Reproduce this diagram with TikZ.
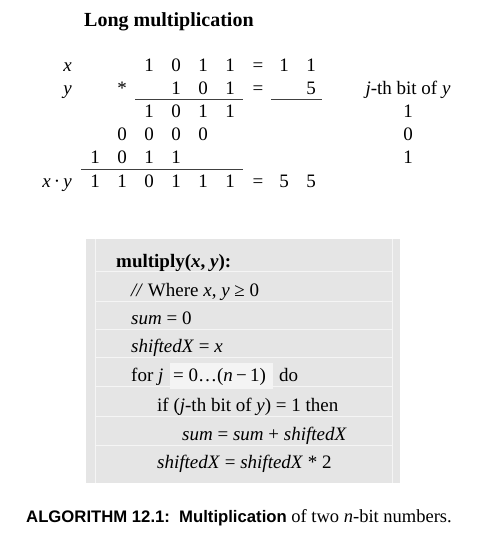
\documentclass[tikz,border=0pt]{standalone}
\usepackage{fontspec}
\setmainfont{Liberation Serif}
\setsansfont{Liberation Sans}
\usetikzlibrary{positioning}

\tikzset{
	digit/.style={anchor=base, inner sep=0pt, font=\fontsize{19}{23}\selectfont},
	sidelabel/.style={anchor=base east, inner sep=0pt, font=\fontsize{19}{23}\selectfont},
	code/.style={anchor=base west, inner sep=0pt, font=\fontsize{19}{23}\selectfont},
	rule/.style={black!75, line width=0.8pt},
	sep/.style={gray!8, line width=0.7pt}
}

\begin{document}
\begin{tikzpicture}[x=1pt, y=-1pt]
	\useasboundingbox (0,0) rectangle (483,536);
	% title
	\node[anchor=base west, inner sep=0pt, font=\fontsize{20}{24}\selectfont\bfseries] (title) at (84,26.5) {Long multiplication};
	% long multiplication, columns 27pt apart
	\node[sidelabel] (xlab) at (72,71) {\textit{x}};
	\node[sidelabel] (ylab) at (72,94) {\textit{y}};
	\node[sidelabel] (xylab) at (72,187) {\textit{x}\,·\,\textit{y}};
	\foreach \b [count=\k from 3] in {1,0,1,1}
		\node[digit] (x\k) at ({68+27*\k},71) {\b};
	\node[digit] (times) at (122,94) {*};
	\foreach \b [count=\k from 4] in {1,0,1}
		\node[digit] (y\k) at ({68+27*\k},94) {\b};
	\foreach \b [count=\k from 3] in {1,0,1,1}
		\node[digit] (pa\k) at ({68+27*\k},117) {\b};
	\foreach \b [count=\k from 2] in {0,0,0,0}
		\node[digit] (pb\k) at ({68+27*\k},140) {\b};
	\foreach \b [count=\k from 1] in {1,0,1,1}
		\node[digit] (pc\k) at ({68+27*\k},163) {\b};
	\foreach \b [count=\k from 1] in {1,1,0,1,1,1}
		\node[digit] (s\k) at ({68+27*\k},187) {\b};
	% decimal values
	\node[digit] (eqx) at (258,71) {=};
	\node[digit] (dxa) at (284,71) {1};
	\node[digit] (dxb) at (311,71) {1};
	\node[digit] (eqy) at (258,94) {=};
	\node[digit] (dy) at (311,94) {5};
	\node[digit] (eqs) at (258,187) {=};
	\node[digit] (dsa) at (284,187) {5};
	\node[digit] (dsb) at (311,187) {5};
	% bits of y
	\node[digit] (bithead) at (408,94) {\textit{j}-th bit of \textit{y}};
	\foreach \b [count=\k] in {1,0,1}
		\node[digit] (bit\k) at (408,{94+23*\k}) {\b};
	\draw[rule] (135,99) -- (243,99);
	\draw[rule] (271,99) -- (322,99);
	\draw[rule] (81,169) -- (243,169);

	% algorithm box
	\fill[gray!20] (86,239) rectangle (400,483);
	\draw[sep] (95,239) -- (95,483);
	\draw[sep] (392,239) -- (392,483);
	\foreach \y in {271.7,301,329,357.7,386.7,416.7,445}
		\draw[sep] (95,\y) -- (392,\y);
	\fill[gray!9] (170,363) rectangle (273,389);
	\node[code] (head) at (116,267) {\textbf{multiply(\textit{x}, \textit{y}):}};
	\node[code] (comment) at (131,296.7) {\textit{//} Where \textit{x}, \textit{y} ≥ 0};
	\node[code] (init) at (131,324) {\textit{sum} = 0};
	\node[code] (initx) at (131,352.7) {\textit{shiftedX} = \textit{x}};
	\node[code] (forj) at (131,381.7) {for \textit{j}};
	\node[code] (range) at (173,381.7) {= 0…(\textit{n}\,−\,1)};
	\node[code] (do) at (279,381.7) {do};
	\node[code] (iftest) at (157,411.7) {if (\textit{j}-th bit of \textit{y}) = 1 then};
	\node[code] (add) at (182,440) {\textit{sum} = \textit{sum} + \textit{shiftedX}};
	\node[code] (shift) at (157,468.3) {\textit{shiftedX} = \textit{shiftedX} * 2};

	% caption
	\node[anchor=base west, inner sep=0pt, font=\fontsize{18.5}{22}\selectfont] (caption) at (26,522.3)
		{{\sffamily\bfseries\fontsize{16.7}{20}\selectfont ALGORITHM 12.1:\hspace{3pt} Multiplication} of two \textit{n}-bit numbers.};
\end{tikzpicture}
\end{document}
